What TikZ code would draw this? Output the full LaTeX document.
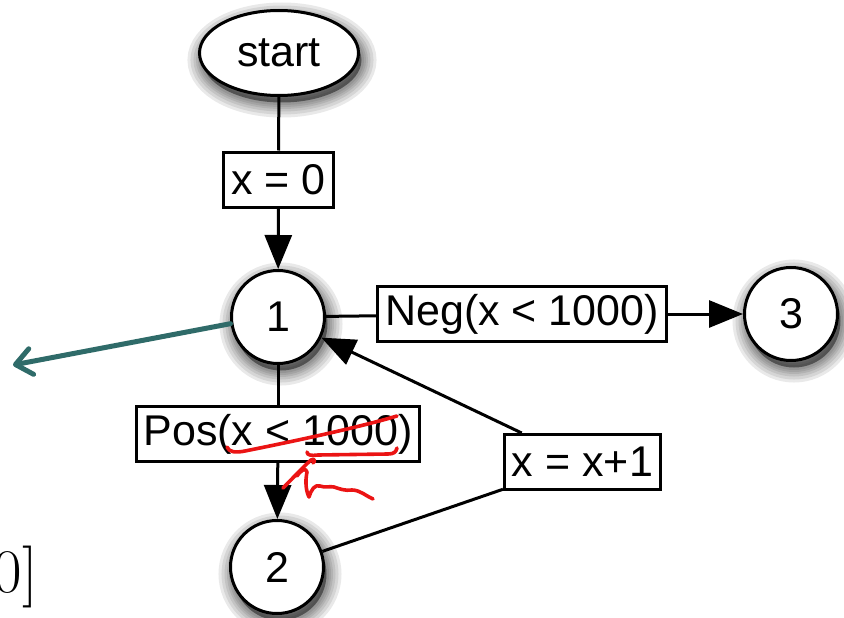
\documentclass[tikz,border=0pt]{standalone}
\usepackage{fontspec}
\newfontfamily\nodefont{Liberation Sans}
\usetikzlibrary{arrows.meta,shapes.geometric}

\definecolor{penteal}{RGB}{47,107,105}
\definecolor{penred}{RGB}{235,20,20}

\tikzset{
  base/.style={draw=black, line width=3pt, fill=white,
    font=\nodefont\fontsize{43}{50}\selectfont},
  % soft drop shadow built from stacked translucent rings
  shadowring/.style={preaction={draw=black, line width=#1, draw opacity=0.085,
    transform canvas={shift={(3pt,-7pt)}}}},
  soft/.style={shadowring=30pt, shadowring=24pt, shadowring=18pt,
    shadowring=13pt, shadowring=9pt, shadowring=5pt,
    preaction={fill=black, fill opacity=0.45,
      transform canvas={shift={(3pt,-7pt)}}}},
  statenode/.style={base, soft, circle, minimum size=93pt, inner sep=0pt},
  startnode/.style={base, soft, ellipse, minimum width=159pt, minimum height=85pt, inner sep=0pt},
  labelbox/.style={base, rectangle, minimum height=55pt, inner xsep=7.5pt, inner ysep=0pt},
  link/.style={line width=3pt, black},
  flow/.style={link, -{Triangle[length=34pt, width=27pt]}},
  pen/.style={penred, line width=3.6pt, line cap=round, line join=round},
}

\begin{document}
\begin{tikzpicture}[x=1pt, y=-1pt]
  \useasboundingbox (0,0) rectangle (844,618);

  % states
  \node[startnode] (start) at (279,53) {start};
  \node[statenode] (n1) at (278,317) {1};
  \node[statenode] (n2) at (277,567) {2};
  \node[statenode] (n3) at (791,314) {3};

  % edge labels
  \node[labelbox] (init) at (278.5,179.5) {x = 0};
  \node[labelbox] (neg)  at (522,314) {Neg(x < 1000)};
  \node[labelbox] (pos)  at (278,434) {Pos(x < 1000)};
  \node[labelbox] (inc)  at (582.5,462) {x = x+1};

  % edges
  \draw[link] (start) -- (init);
  \draw[flow] (init) -- (n1);
  \draw[link] (n1) -- (neg);
  \draw[flow] (neg) -- (n3);
  \draw[link] (n1) -- (pos);
  \draw[flow] (pos) -- (n2);
  \draw[link] (n2) -- (inc);
  \draw[flow] (inc) -- (n1);

  % hand-drawn teal arrow leaving node 1
  \coordinate (tealtip) at (13,365);
  \draw[penteal, line width=5pt, line cap=round,
        -{Straight Barb[length=16pt, width=26pt, round]}]
        (n1.188) -- (tealtip);

  % red pen marks over the guard of the Pos edge
  \draw[pen] (227,447) .. controls (229,452) and (235,453) .. (245,451)
             .. controls (300,440) and (360,427) .. (397,416);
  \draw[pen] (307,452) .. controls (307,455) and (311,456) .. (318,455)
             -- (388,454) .. controls (394,454) and (396,452) .. (397,448);
  \draw[pen] (283,488) .. controls (293,478) and (303,467) .. (311,460)
             .. controls (314,458) and (316,461) .. (313,463);
  \draw[pen] (297,476) .. controls (301,470) and (306,467) .. (307,472)
             .. controls (305,482) and (306,491) .. (309,497)
             .. controls (311,490) and (315,484) .. (320,486)
             .. controls (325,488) and (330,486) .. (334,487)
             .. controls (340,489) and (345,491) .. (352,490)
             .. controls (360,490) and (366,496) .. (373,499);

  % end of a formula running in from the left
  \node[anchor=base east, inner sep=0pt, font=\fontsize{62}{70}\selectfont]
        (tail) at (38,592) {0]};
\end{tikzpicture}
\end{document}
